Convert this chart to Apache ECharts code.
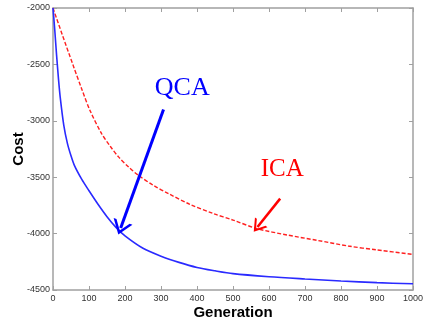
<!DOCTYPE html>
<html><head><meta charset="utf-8">
<script src="https://cdn.jsdelivr.net/npm/echarts@6/dist/echarts.min.js"></script>
<style>html,body{margin:0;padding:0;background:#fff}#c{width:423px;height:323px}</style>
</head><body><div id="c"></div>
<script>
var qcaGen = [0,5,10,15,20,30,40,50,60,80,100,125,150,175,200,250,300,350,400,450,500,600,700,800,900,1000];
var qcaCost = [-2000,-2200,-2420,-2620,-2790,-3040,-3200,-3310,-3400,-3520,-3620,-3740,-3850,-3945,-4020,-4130,-4200,-4255,-4300,-4330,-4355,-4382,-4402,-4420,-4435,-4445];
var icaGen = [0,25,55,80,103,135,160,182,210,237,280,321,380,446,500,567,650,734,820,900,1000];
var icaCost = [-2000,-2230,-2500,-2720,-2910,-3113,-3230,-3320,-3410,-3483,-3575,-3646,-3740,-3823,-3880,-3956,-4012,-4060,-4110,-4145,-4184];
var xTicks = [0,100,200,300,400,500,600,700,800,900,1000];
var yTicks = [-2000,-2500,-3000,-3500,-4000,-4500];
var qcaLabel = {text:'QCA', at:[359,-2710]};
var icaLabel = {text:'ICA', at:[637,-3430]};
var qcaArrow = [[307,-2900],[188,-3950]];
var icaArrow = [[631,-3690],[568,-3942]];

function pairs(a,b){return a.map(function(v,i){return [v,b[i]];});}
var vArrow = 'path://M0,20 L10,0 L20,20 L17,20 L10,6 L3,20 Z';
var axisGray = '#a0a0a0';
var chart = echarts.init(document.getElementById('c'));
var tickCommon = {show:true, inside:true, length:4, lineStyle:{color:axisGray}};
chart.setOption({
  animation:false,
  grid:{left:53,right:10,top:8,bottom:33,show:false,containLabel:false,outerBoundsMode:'none'},
  xAxis:[{
    type:'value',min:0,max:1000,interval:100,
    name:'Generation',nameLocation:'middle',nameGap:15,nameMoveOverlap:false,
    nameTextStyle:{fontFamily:'Liberation Sans, Arial',fontWeight:'bold',fontSize:15,color:'#000'},
    axisLine:{show:true,onZero:false,lineStyle:{color:axisGray,width:1.5}},
    axisTick:tickCommon,
    axisLabel:{fontFamily:'Liberation Sans, Arial',fontSize:9,color:'#333',margin:4,
      formatter:function(v){return xTicks.indexOf(v)>=0?String(v):'';}},
    splitLine:{show:false}
  },{
    type:'value',min:0,max:1000,interval:100,position:'top',
    axisLine:{show:true,onZero:false,lineStyle:{color:axisGray,width:1.5}},
    axisTick:tickCommon,axisLabel:{show:false},splitLine:{show:false}
  }],
  yAxis:[{
    type:'value',min:-4500,max:-2000,interval:500,
    name:'Cost',nameLocation:'middle',nameGap:27,nameRotate:90,nameMoveOverlap:false,
    nameTextStyle:{fontFamily:'Liberation Sans, Arial',fontWeight:'bold',fontSize:15,color:'#000'},
    axisLine:{show:true,onZero:false,lineStyle:{color:axisGray,width:1.5}},
    axisTick:tickCommon,
    axisLabel:{fontFamily:'Liberation Sans, Arial',fontSize:9,color:'#333',margin:3,
      formatter:function(v){return yTicks.indexOf(v)>=0?String(v):'';}},
    splitLine:{show:false}
  },{
    type:'value',min:-4500,max:-2000,interval:500,position:'right',
    axisLine:{show:true,onZero:false,lineStyle:{color:axisGray,width:1.5}},
    axisTick:tickCommon,axisLabel:{show:false},splitLine:{show:false}
  }],
  series:[{
    name:'ICA',type:'line',data:pairs(icaGen,icaCost),smooth:0.3,showSymbol:false,
    lineStyle:{color:'#ff2020',width:1.4,type:[4,2]},z:3,
    markLine:{silent:true,symbol:['none',vArrow],symbolSize:[16,12],
      lineStyle:{color:'#ff0000',width:2.5,type:'solid'},label:{show:false},
      data:[[{coord:icaArrow[0]},{coord:icaArrow[1]}]]},
    markPoint:{symbol:'circle',symbolSize:0,silent:true,
      label:{show:true,position:'inside',formatter:icaLabel.text,color:'#ff0000',fontFamily:'Liberation Serif, Times New Roman',fontSize:25},
      data:[{coord:icaLabel.at}]}
  },{
    name:'QCA',type:'line',data:pairs(qcaGen,qcaCost),smooth:0.3,showSymbol:false,
    lineStyle:{color:'#2a2aff',width:1.6},z:4,
    markLine:{silent:true,symbol:['none',vArrow],symbolSize:[20,14],
      lineStyle:{color:'#0000ff',width:3,type:'solid'},label:{show:false},
      data:[[{coord:qcaArrow[0]},{coord:qcaArrow[1]}]]},
    markPoint:{symbol:'circle',symbolSize:0,silent:true,
      label:{show:true,position:'inside',formatter:qcaLabel.text,color:'#0000ff',fontFamily:'Liberation Serif, Times New Roman',fontSize:26},
      data:[{coord:qcaLabel.at}]}
  }]
});
</script></body></html>
